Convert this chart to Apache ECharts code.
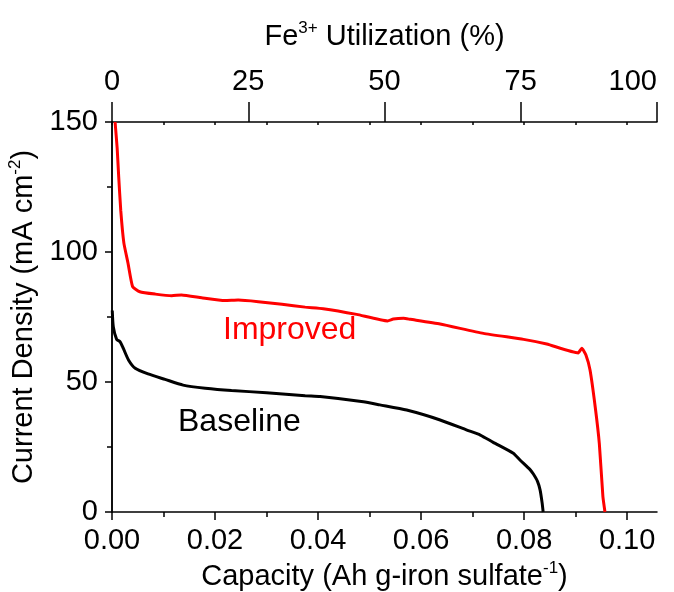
<!DOCTYPE html>
<html>
<head>
<meta charset="utf-8">
<script src="https://cdn.jsdelivr.net/npm/echarts@6/dist/echarts.min.js"></script>
<style>
  html, body { margin: 0; padding: 0; background: #fff; }
  #chart { width: 674px; height: 592px; }
</style>
</head>
<body>
<div id="chart"></div>
<script>
// Discharge capacity (Ah per g iron sulfate) vs. current density (mA cm^-2)
const capImproved = [0.0006, 0.0010, 0.0013, 0.0017, 0.0023, 0.0031, 0.0040, 0.0054, 0.0084, 0.0116, 0.0135,
  0.0174, 0.0219, 0.0245, 0.0284, 0.0330, 0.0375, 0.0410, 0.0475, 0.0535, 0.0546, 0.0566, 0.0579,
  0.0637, 0.0721, 0.0799, 0.0844, 0.0905, 0.0912, 0.0920, 0.0928, 0.0938, 0.0946, 0.0953, 0.0957];
const jImproved = [150, 140, 129, 116, 103.5, 95.8, 86.7, 84.7, 83.8, 83.2, 83.5,
  82.4, 81.3, 81.5, 80.9, 79.9, 78.8, 78.2, 76.0, 73.5, 74.2, 74.5, 74.1,
  72.3, 68.7, 66.4, 64.6, 61.2, 63.0, 60.4, 54.6, 40.5, 26.4, 5.9, 0];

const capBaseline = [0.00005, 0.00025, 0.0009, 0.00155, 0.0022, 0.0032, 0.0045, 0.0070, 0.0103, 0.0138,
  0.0181, 0.0232, 0.0300, 0.0375, 0.0404, 0.0488, 0.0520, 0.0572, 0.0637, 0.0689, 0.0715, 0.0740,
  0.0779, 0.0792, 0.0812, 0.0818, 0.0826, 0.0831, 0.0835, 0.0837];
const jBaseline = [77.5, 71.3, 66.4, 65.5, 62.9, 58.5, 55.3, 53.1, 51.0, 48.8,
  47.6, 46.7, 45.9, 44.7, 44.4, 42.4, 41.2, 39.2, 35.4, 31.5, 29.6, 26.8,
  22.6, 20.0, 16.2, 14.6, 11.8, 8.5, 3.5, 0];

// Axis ranges and tick positions
const capRange = [0, 0.1058];
const capLabelTicks = [0, 0.02, 0.04, 0.06, 0.08, 0.10];
const capMinorTicks = [0.01, 0.03, 0.05, 0.07, 0.09];
const capAllTicks = [0, 0.01, 0.02, 0.03, 0.04, 0.05, 0.06, 0.07, 0.08, 0.09, 0.10];
const utilRange = [0, 100];
const utilTicks = [0, 25, 50, 75, 100];
const jRange = [0, 150];
const jAllTicks = [0, 25, 50, 75, 100, 125, 150];

const FONT = '"Liberation Sans", Arial, sans-serif';
const pairs = (xs, ys) => xs.map((x, i) => [x, ys[i]]);

const chart = echarts.init(document.getElementById('chart'), null, { renderer: 'canvas' });

const axisLineStyle = { color: '#000', width: 1.5 };
const titleRich = {
  t: { fontSize: 29, fontFamily: FONT, color: '#000', lineHeight: 34 },
  s: { fontSize: 17, fontFamily: FONT, color: '#000', verticalAlign: 'top', lineHeight: 20 }
};

chart.setOption({
  animation: false,
  backgroundColor: '#fff',
  grid: { left: 112, top: 122, width: 545, height: 390, containLabel: false, outerBoundsMode: 'none' },
  xAxis: [
    {
      type: 'value', position: 'bottom', min: capRange[0], max: capRange[1],
      axisLine: { show: true, lineStyle: axisLineStyle },
      axisTick: { show: true, length: 8, customValues: capLabelTicks, lineStyle: axisLineStyle },
      axisLabel: {
        customValues: capLabelTicks, margin: 14, color: '#000', fontSize: 29, fontFamily: FONT,
        formatter: v => v.toFixed(2)
      },
      splitLine: { show: false },
      name: '{t|Capacity (Ah g-iron sulfate}{s|-1}{t|)}',
      nameLocation: 'middle', nameGap: 48,
      nameTextStyle: { rich: titleRich }
    },
    {
      // minor ticks on the capacity axis
      type: 'value', position: 'bottom', min: capRange[0], max: capRange[1],
      axisLine: { show: false },
      axisTick: { show: true, length: 5, customValues: capMinorTicks, lineStyle: axisLineStyle },
      axisLabel: { show: false },
      splitLine: { show: false }
    },
    {
      // Fe3+ utilization scale along the top edge
      type: 'value', position: 'top', min: utilRange[0], max: utilRange[1],
      axisLine: { show: true, lineStyle: axisLineStyle },
      axisTick: { show: true, length: 20, customValues: utilTicks, lineStyle: axisLineStyle },
      axisLabel: {
        customValues: utilTicks, margin: 26, color: '#000', fontSize: 29, fontFamily: FONT,
        alignMaxLabel: 'right'
      },
      splitLine: { show: false },
      name: '{t|Fe}{s|3+}{t| Utilization (%)}',
      nameLocation: 'middle', nameGap: 68,
      nameTextStyle: { rich: titleRich }
    },
    {
      // capacity ticks mirrored inside the top edge
      type: 'value', position: 'top', min: capRange[0], max: capRange[1],
      axisLine: { show: false },
      axisTick: { show: true, inside: true, length: 3, customValues: capAllTicks, lineStyle: axisLineStyle },
      axisLabel: { show: false },
      splitLine: { show: false }
    }
  ],
  yAxis: [
    {
      type: 'value', position: 'left', min: jRange[0], max: jRange[1], interval: 50,
      axisLine: { show: true, lineStyle: axisLineStyle },
      axisTick: { show: true, length: 7, lineStyle: axisLineStyle },
      minorTick: { show: true, splitNumber: 2, length: 5, lineStyle: axisLineStyle },
      axisLabel: { margin: 14, color: '#000', fontSize: 29, fontFamily: FONT },
      splitLine: { show: false },
      minorSplitLine: { show: false },
      name: '{t|Current Density (mA cm}{s|-2}{t|)}',
      nameLocation: 'middle', nameRotate: 90, nameGap: 62,
      nameTextStyle: { rich: titleRich }
    },
    {
      type: 'value', position: 'right', min: jRange[0], max: jRange[1],
      axisLine: { show: true, lineStyle: axisLineStyle },
      axisTick: { show: true, inside: true, length: 4, customValues: jAllTicks, lineStyle: axisLineStyle },
      axisLabel: { show: false },
      splitLine: { show: false }
    }
  ],
  series: [
    {
      name: 'Improved', type: 'line', xAxisIndex: 0, yAxisIndex: 0,
      data: pairs(capImproved, jImproved),
      showSymbol: false, smooth: 0.15, clip: true,
      lineStyle: { color: '#ff0000', width: 3 }
    },
    {
      name: 'Baseline', type: 'line', xAxisIndex: 0, yAxisIndex: 0,
      data: pairs(capBaseline, jBaseline),
      showSymbol: false, smooth: 0.2, clip: true,
      lineStyle: { color: '#000000', width: 3 }
    }
  ],
  graphic: [
    {
      type: 'text', left: 223, top: 314,
      style: { text: 'Improved', fill: '#ff0000', fontSize: 32, fontFamily: FONT }
    },
    {
      type: 'text', left: 178, top: 406,
      style: { text: 'Baseline', fill: '#000', fontSize: 32, fontFamily: FONT }
    }
  ]
});
</script>
</body>
</html>
